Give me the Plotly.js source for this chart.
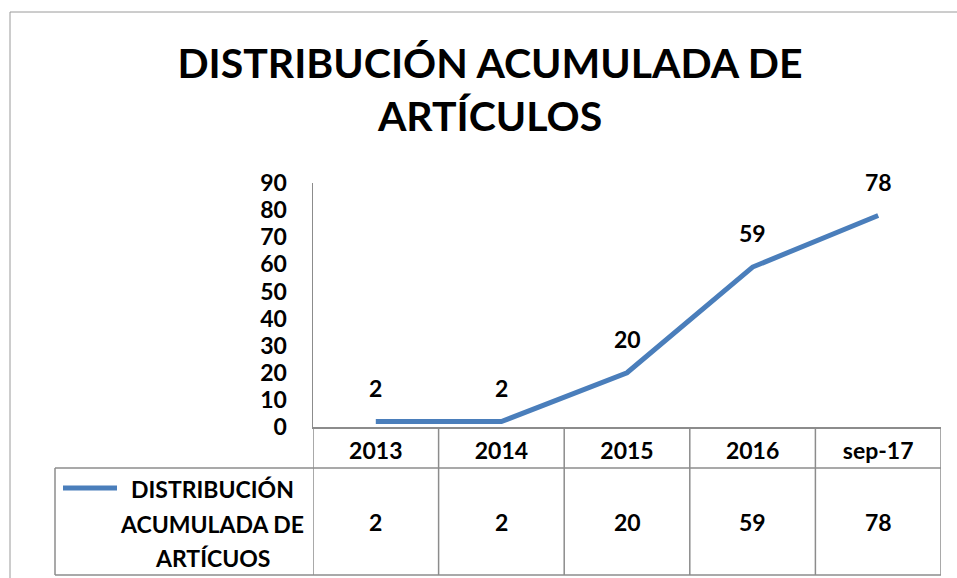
<!DOCTYPE html>
<html>
<head>
<meta charset="utf-8">
<script src="https://cdn.plot.ly/plotly-3.0.1.min.js"></script>
<style>html,body{margin:0;padding:0;background:#fff;}#chart{width:957px;height:578px;}</style>
</head>
<body>
<div id="chart"></div>
<script>
const categories = ["2013", "2014", "2015", "2016", "sep-17"];
const values = [2, 2, 20, 59, 78];
const seriesName = "DISTRIBUCIÓN ACUMULADA DE ARTÍCUOS";
const seriesLines = ["DISTRIBUCIÓN", "ACUMULADA DE", "ARTÍCUOS"];
const titleText = "DISTRIBUCIÓN ACUMULADA DE<br>ARTÍCULOS";
const yTicks = [0, 10, 20, 30, 40, 50, 60, 70, 80, 90];

const FONT = "Lato, Carlito, Calibri, 'Open Sans', sans-serif";
const FS = 23;
const gridColor = "#8c8c8c";
const lineColor = "#4a7ebb";

// plot area: x 313..941, y 183..427
const px = v => (v - 313) / 628;
const py = v => (427 - v) / 244;

const shapes = [];
// outer chart border
shapes.push({type:"rect", xref:"paper", yref:"paper", x0:px(10), x1:px(1000), y0:py(600), y1:py(12),
  line:{color:"#9a9a9a", width:1}, fillcolor:"rgba(0,0,0,0)", layer:"below"});
// vertical table lines at category boundaries
for (let i = 0; i <= categories.length; i++) {
  shapes.push({type:"line", xref:"x", yref:"paper", x0:i-0.5, x1:i-0.5, y0:0, y1:py(575),
    line:{color:gridColor, width:1.5}});
}
// horizontal table lines
shapes.push({type:"line", xref:"paper", yref:"paper", x0:px(55), x1:1, y0:py(468), y1:py(468), line:{color:gridColor, width:1.5}});
shapes.push({type:"line", xref:"paper", yref:"paper", x0:px(55), x1:1, y0:py(575), y1:py(575), line:{color:gridColor, width:1.5}});
shapes.push({type:"line", xref:"paper", yref:"paper", x0:px(55), x1:px(55), y0:py(468), y1:py(575), line:{color:gridColor, width:1.5}});
// legend key line
shapes.push({type:"line", xref:"paper", yref:"paper", x0:px(63), x1:px(117), y0:py(488), y1:py(488),
  line:{color:lineColor, width:5}});

const font = {family:FONT, size:FS, color:"#000", weight:700};
const annotations = [];
categories.forEach((c, i) => {
  // data labels
  annotations.push({x:i, y:values[i], xref:"x", yref:"y", text:String(values[i]), showarrow:false,
    xanchor:"center", yanchor:"middle", yshift:34, font:font});
  // table value row
  annotations.push({x:i, y:py(522), xref:"x", yref:"paper", text:String(values[i]), showarrow:false,
    xanchor:"center", yanchor:"middle", font:font});
});
// legend text
seriesLines.forEach((t, k) => {
  annotations.push({x:px(212), y:py(489 + 34.5*k), xref:"paper", yref:"paper", text:t, showarrow:false,
    xanchor:"center", yanchor:"middle", font:font});
});

const trace = {
  x: categories, y: values, type:"scatter", mode:"lines",
  line:{color:lineColor, width:5}, name:seriesName, cliponaxis:false
};

const layout = {
  width:957, height:578,
  margin:{l:313, r:16, t:183, b:151},
  paper_bgcolor:"#fff", plot_bgcolor:"#fff",
  showlegend:false,
  font:{family:FONT, color:"#000"},
  title:{text:titleText, x:490/957, xref:"container", xanchor:"center", y:1-78/578, yref:"container", yanchor:"top",
    font:{family:FONT, size:41, color:"#000", weight:700}},
  xaxis:{type:"category", range:[-0.5, 4.5], showgrid:false, zeroline:false, showline:true, linecolor:gridColor, linewidth:1.5,
    ticks:"", tickfont:font, ticklabelstandoff:3, fixedrange:true},
  yaxis:{range:[0, 90], tickvals:yTicks, showgrid:false, zeroline:false, showline:true, linecolor:gridColor, linewidth:1.5,
    ticks:"", tickfont:font, ticklabelstandoff:20, fixedrange:true},
  shapes: shapes,
  annotations: annotations
};

Plotly.newPlot("chart", [trace], layout, {displayModeBar:false, staticPlot:true});
</script>
</body>
</html>
